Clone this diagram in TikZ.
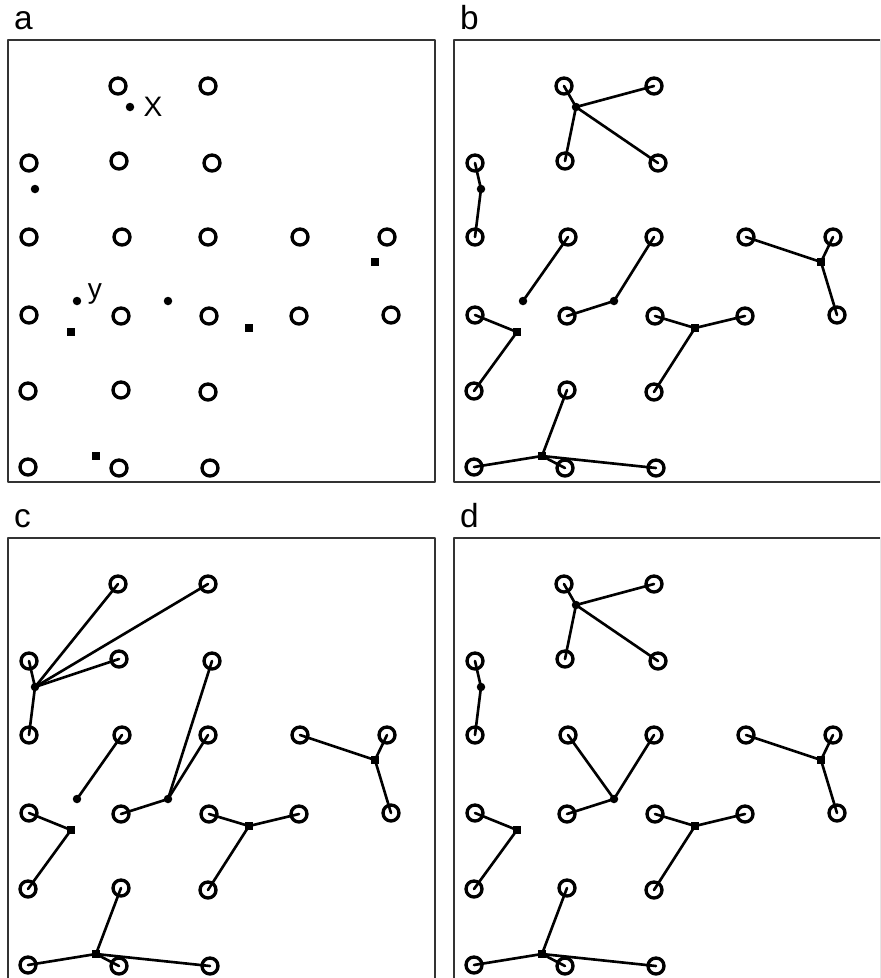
\documentclass[tikz,border=0pt]{standalone}
\usepackage{fontspec}
\setmainfont{Liberation Sans}
\begin{document}
\begin{tikzpicture}[x=0.02cm, y=-0.02cm, line join=round, line cap=round,
	site/.style={circle, draw, line width=1.9pt, minimum size=3.2mm, inner sep=0pt},
	plant/.style={circle, fill, inner sep=0pt, minimum size=1.7mm},
	depot/.style={rectangle, fill, inner sep=0pt, minimum size=1.6mm},
	link/.style={line width=1.5pt},
	frame/.style={line width=1.2pt, draw=black!80},
	panel/.style={anchor=base west, font=\fontsize{19}{22}\selectfont},
	tag/.style={font=\fontsize{16}{18}\selectfont}]
	\useasboundingbox (0,0) rectangle (880,978);
	\clip (0,0) rectangle (880,978);
	\def\sites{11/118/86,12/208/86,21/29/163,22/119/161,23/212/163,
		31/29/237,32/122/237,33/208/237,34/300/237,35/387/237,
		41/29/315,42/121/316,43/209/316,44/299/316,45/391/315,
		51/28/391,52/121/390,53/208/392,61/28/467,62/119/468,63/210/468}
	\def\depots{1/375/262,2/71/332,3/249/328,4/96/456}
	\def\depotlinks{s1/34,s1/35,s1/45,s2/41,s2/51,s3/43,s3/44,s3/53,s4/52,s4/61,s4/62,s4/63}
	% frames, labels, customers and depots
	\foreach \p/\dx/\dy in {a/0/0,b/446/0,c/0/498,d/446/498}{
		\begin{scope}[shift={(\dx,\dy)}]
			\draw[frame] (8,40) rectangle (435,482);
			\node[panel] (lab\p) at (8,29) {\p};
			\foreach \n/\x/\y in \sites \node[site] (\p\n) at (\x,\y) {};
			\foreach \n/\x/\y in \depots \node[depot] (\p s\n) at (\x,\y) {};
		\end{scope}
	}
	% a
	\foreach \n/\x/\y in {1/130/107,2/35/189,3/77/301,4/168/301}
	\node[plant] (af\n) at (\x,\y) {};
	\node[tag] (tagx) at (153,107) {X};
	\node[tag] (tagy) at (95,294) {y};
	% b
	\begin{scope}[shift={(446,0)}]
		\foreach \n/\x/\y in {1/130/107,2/35/189,3/77/301,4/168/301}
		\node[plant] (bf\n) at (\x,\y) {};
	\end{scope}
	\foreach \f/\s in {f1/11,f1/12,f1/22,f1/23,f2/21,f2/31,f3/32,f4/33,f4/42}
	\draw[link] (b\f.center)--(b\s.center);
	% c
	\begin{scope}[shift={(0,498)}]
		\foreach \n/\x/\y in {2/35/189,3/77/301,4/168/301}
		\node[plant] (cf\n) at (\x,\y) {};
	\end{scope}
	\foreach \f/\s in {f2/11,f2/12,f2/21,f2/22,f2/31,f3/32,f4/23,f4/33,f4/42}
	\draw[link] (c\f.center)--(c\s.center);
	% d
	\begin{scope}[shift={(446,498)}]
		\foreach \n/\x/\y in {1/130/107,2/35/189,4/168/301}
		\node[plant] (df\n) at (\x,\y) {};
	\end{scope}
	\foreach \f/\s in {f1/11,f1/12,f1/22,f1/23,f2/21,f2/31,f4/32,f4/33,f4/42}
	\draw[link] (d\f.center)--(d\s.center);
	% depot links
	\foreach \p in {b,c,d}
	\foreach \f/\s in \depotlinks
	\draw[link] (\p\f.center)--(\p\s.center);
\end{tikzpicture}
\end{document}
